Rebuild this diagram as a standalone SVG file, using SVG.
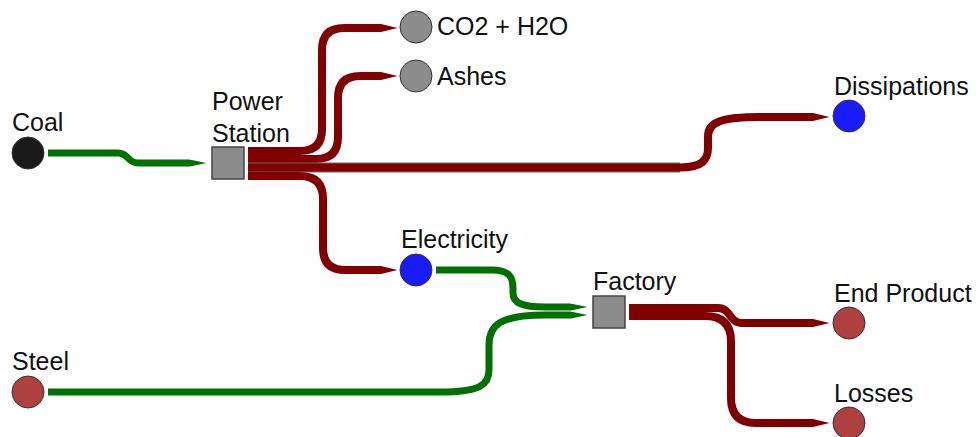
<svg xmlns="http://www.w3.org/2000/svg" width="976" height="437" viewBox="0 0 976 437">
<defs>
<style>
.lbl{font-family:"Liberation Sans",Arial,sans-serif;font-size:25px;fill:#111;}
.r{fill:none;stroke:#800000;stroke-width:8;marker-end:url(#tipR);}
.g{fill:none;stroke:#007000;stroke-width:7;marker-end:url(#tipG);}
.nd{stroke:#333;stroke-width:1;}
.proc{fill:#8c8c8c;stroke:#444;stroke-width:1.5;}
</style>
<marker id="tipR" markerUnits="userSpaceOnUse" markerWidth="17" markerHeight="8" viewBox="0 0 17 8" refX="0.5" refY="4" orient="auto">
<path d="M0,0 L17,4 L0,8 z" fill="#800000"/>
</marker>
<marker id="tipG" markerUnits="userSpaceOnUse" markerWidth="17" markerHeight="7" viewBox="0 0 17 7" refX="0.5" refY="3.5" orient="auto">
<path d="M0,0 L17,3.5 L0,7 z" fill="#007000"/>
</marker>
</defs>
<rect width="976" height="437" fill="#fff"/>
<g id="connectors">
<path class="g" d="M48,153 L118,153 C129,153 127,163 138,163 L190,163"/>
<path class="r" d="M248,151 L300,151 Q322,151 322,129 L322,50 Q322,28 344,28 L381,28"/>
<path class="r" d="M248,159 L316,159 Q338,159 338,137 L338,98 Q338,76 360,76 L381,76"/>
<path d="M248,167.5 L680,167.5" fill="none" stroke="#6a6a6a" stroke-width="10"/>
<path class="r" d="M248,167.5 L680,167.5 C702,167.5 708,160 708,148 L708,136 C708,122 722,117 760,117 L813,117"/>
<path class="r" d="M248,176 L300,176 Q323,176 323,199 L323,248 Q323,270 345,270 L381,270"/>
<path class="g" d="M436,270 L492,270 C510,270 513,278 513,288 L513,293 C513,303 522,307 545,307 L571,307"/>
<path class="g" d="M48,392 L440,392 C480,392 489,385 489,370 L489,345 C489,325 500,315 545,315 L571,315"/>
<path class="r" d="M629,308 L718,308 C731,308 729,323 742,323 L813,323"/>
<path class="r" d="M629,316 L705,316 Q731,316 731,341 L731,398 Q731,423 756,423 L813,423"/>
</g>
<g id="coal"><circle class="nd" cx="28" cy="153" r="16" fill="#1a1a1a"/><text class="lbl" x="12" y="131">Coal</text></g>
<g id="power-station"><rect class="proc" x="212" y="147" width="32" height="32"/><text class="lbl" x="212" y="110">Power</text><text class="lbl" x="212" y="142">Station</text></g>
<g id="co2"><circle class="nd" cx="416" cy="27" r="16" fill="#8c8c8c"/><text class="lbl" x="437" y="35">CO2 + H2O</text></g>
<g id="ashes"><circle class="nd" cx="416" cy="76" r="16" fill="#8c8c8c"/><text class="lbl" x="437" y="85">Ashes</text></g>
<g id="dissipations"><circle class="nd" cx="849" cy="116" r="16" fill="#1a1aff"/><text class="lbl" x="834" y="95">Dissipations</text></g>
<g id="electricity"><circle class="nd" cx="416" cy="270" r="16" fill="#1a1aff"/><text class="lbl" x="401" y="248">Electricity</text></g>
<g id="factory"><rect class="proc" x="593" y="296" width="32" height="32"/><text class="lbl" x="593" y="290">Factory</text></g>
<g id="end-product"><circle class="nd" cx="849" cy="323" r="16" fill="#ae4040"/><text class="lbl" x="834" y="302">End Product</text></g>
<g id="losses"><circle class="nd" cx="849" cy="423" r="16" fill="#ae4040"/><text class="lbl" x="834" y="402">Losses</text></g>
<g id="steel"><circle class="nd" cx="28" cy="392" r="16" fill="#ae4040"/><text class="lbl" x="12" y="370">Steel</text></g>
</svg>
